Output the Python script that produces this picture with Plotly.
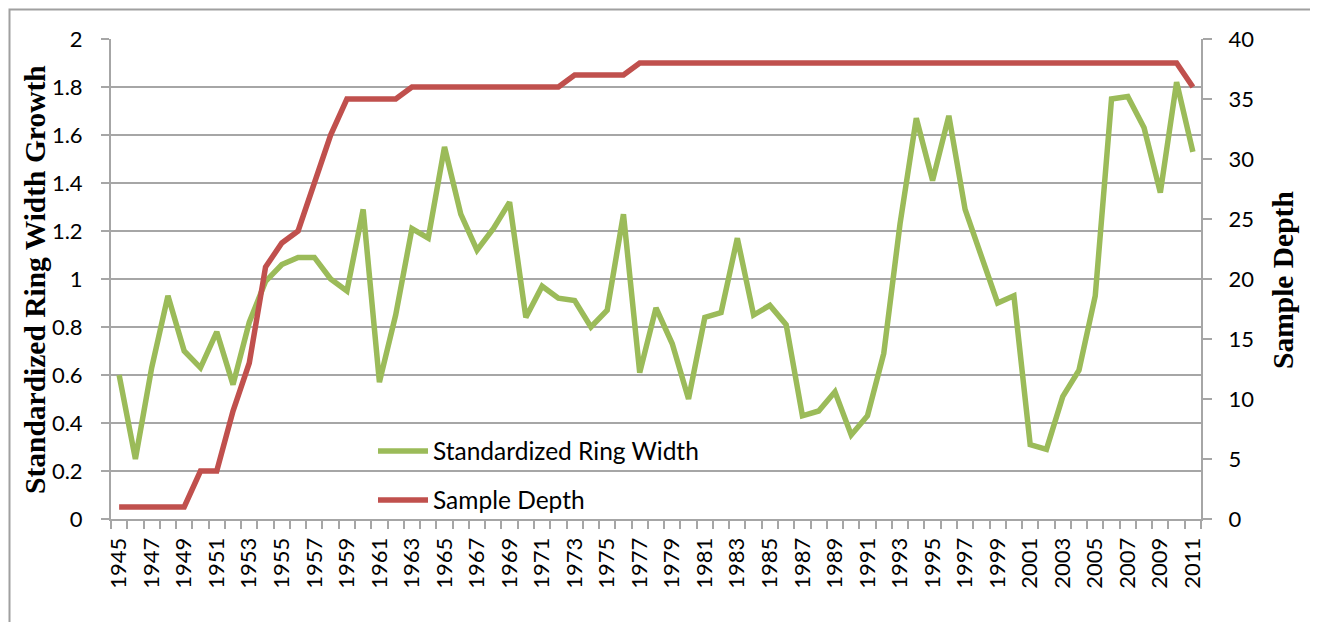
import plotly.graph_objects as go

years = list(range(1945, 2012))
ring_width = [0.60, 0.25, 0.63, 0.93, 0.70, 0.63, 0.78, 0.56, 0.82, 0.99,
              1.06, 1.09, 1.09, 1.00, 0.95, 1.29, 0.57, 0.85, 1.21, 1.17,
              1.55, 1.27, 1.12, 1.21, 1.32, 0.84, 0.97, 0.92, 0.91, 0.80,
              0.87, 1.27, 0.61, 0.88, 0.73, 0.50, 0.84, 0.86, 1.17, 0.85,
              0.89, 0.81, 0.43, 0.45, 0.53, 0.35, 0.43, 0.69, 1.23, 1.67,
              1.41, 1.68, 1.29, 1.09, 0.90, 0.93, 0.31, 0.29, 0.51, 0.62,
              0.93, 1.75, 1.76, 1.63, 1.36, 1.82, 1.53]
sample_depth = [1, 1, 1, 1, 1, 4, 4, 9, 13, 21, 23, 24, 28, 32, 35, 35, 35, 35,
                36, 36, 36, 36, 36, 36, 36, 36, 36, 36, 37, 37, 37, 37] + [38] * 34 + [36]
tick_years = list(range(1945, 2012, 2))
tick_labels = [str(y) for y in tick_years]

GREEN = "#9BBB59"
RED = "#C0504D"
GRID = "#a6a6a6"
TICKFONT = dict(family="Lato, Calibri, sans-serif", size=22, color="black")
TITLEFONT = dict(family="Liberation Serif, Times New Roman, serif", size=29.5, color="black")
LEGFONT = dict(family="Lato, Calibri, sans-serif", size=24.5, color="black")

# page body has an 8px margin: figure origin sits at (8, 8) in the window
OFF = 8
L, T, PW, PH = 111 - OFF, 39 - OFF, 1090, 480
W, H = 1318 - OFF, 622 - OFF

fig = go.Figure()
fig.add_trace(go.Scatter(x=years, y=ring_width, mode="lines", name="Standardized Ring Width",
                         line=dict(color=GREEN, width=5.5), yaxis="y", legend="legend"))
fig.add_trace(go.Scatter(x=years, y=sample_depth, mode="lines", name="Sample Depth",
                         line=dict(color=RED, width=5.5), yaxis="y2", legend="legend2"))

boundaries = [y - 0.5 for y in years] + [years[-1] + 0.5]


def px_x(x):
    return (x - 111) / PW


def px_y(y):
    return (519 - y) / PH


fig.update_layout(
    width=W, height=H,
    margin=dict(l=L, r=W - L - PW, t=T, b=H - T - PH, autoexpand=False),
    paper_bgcolor="white", plot_bgcolor="white",
    xaxis=dict(range=[1944.5, 2011.5], tickmode="array", tickvals=tick_years, ticktext=tick_labels,
               tickangle=-90, ticks="", showgrid=False, zeroline=False,
               showline=True, linecolor=GRID, linewidth=2, tickfont=TICKFONT,
               ticklabelstandoff=8,
               minor=dict(tickmode="array", tickvals=boundaries, ticks="outside", ticklen=8,
                          tickwidth=2, tickcolor=GRID, showgrid=False)),
    yaxis=dict(range=[0, 2], dtick=0.2, tick0=0, showgrid=True, gridcolor=GRID, gridwidth=2,
               zeroline=False, showline=True, linecolor=GRID, linewidth=2,
               ticks="outside", ticklen=8, tickwidth=2, tickcolor=GRID, tickfont=TICKFONT,
               ticklabelstandoff=14),
    yaxis2=dict(range=[0, 40], dtick=5, tick0=0, overlaying="y", side="right", showgrid=False,
                zeroline=False, showline=True, linecolor=GRID, linewidth=2,
                ticks="outside", ticklen=9, tickwidth=2, tickcolor=GRID, tickfont=TICKFONT,
                ticklabelstandoff=12),
    legend=dict(x=px_x(373), y=px_y(451), xanchor="left", yanchor="middle",
                bgcolor="rgba(0,0,0,0)", font=LEGFONT, itemwidth=50),
    legend2=dict(x=px_x(373), y=px_y(500), xanchor="left", yanchor="middle",
                 bgcolor="rgba(0,0,0,0)", font=LEGFONT, itemwidth=50),
    showlegend=True,
    annotations=[
        dict(text="<b>Standardized Ring Width Growth</b>", xref="paper", yref="paper",
             x=px_x(35), y=px_y(280), xanchor="center", yanchor="middle",
             textangle=-90, showarrow=False, font=TITLEFONT),
        dict(text="<b>Sample Depth</b>", xref="paper", yref="paper",
             x=px_x(1283), y=px_y(280), xanchor="center", yanchor="middle",
             textangle=-90, showarrow=False, font=TITLEFONT),
    ],
    shapes=[
        dict(type="rect", xref="paper", yref="paper",
             x0=px_x(9.5), x1=px_x(1315), y0=px_y(700), y1=px_y(9.5),
             line=dict(color="#a0a0a0", width=2), fillcolor="rgba(0,0,0,0)", layer="below"),
    ],
)

fig.write_html("out.html")
